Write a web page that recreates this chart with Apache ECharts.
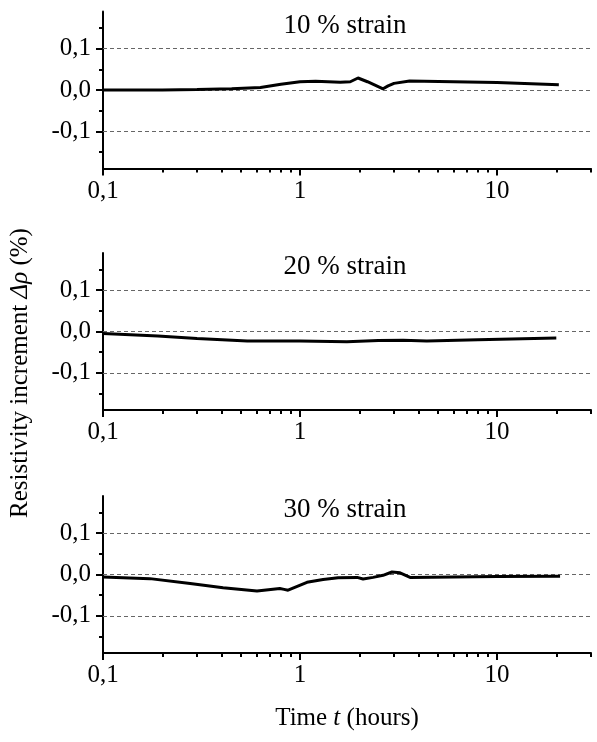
<!DOCTYPE html>
<html>
<head>
<meta charset="utf-8">
<script src="https://cdn.jsdelivr.net/npm/echarts@6/dist/echarts.min.js"></script>
<style>
  html, body { margin: 0; background: #fff; }
  #chart { width: 597px; height: 742px; }
</style>
</head>
<body>
<div id="chart"></div>
<script>
// data (time in hours, resistivity increment in %)
const panelTitles = ['10 % strain', '20 % strain', '30 % strain']

const time10 = [0.1, 0.2, 0.3, 0.45, 0.63, 0.8, 1.0, 1.2, 1.6, 1.8, 1.97, 2.2, 2.64, 2.8, 3.0, 3.6, 10, 20.6]
const rho10 = [0.0, 0.0, 0.001, 0.003, 0.006, 0.014, 0.02, 0.021, 0.019, 0.02, 0.029, 0.02, 0.003, 0.01, 0.016, 0.022, 0.018, 0.013]

const time20 = [0.1, 0.19, 0.3, 0.54, 1.0, 1.73, 2.5, 3.34, 4.4, 8, 20]
const rho20 = [-0.005, -0.011, -0.017, -0.023, -0.023, -0.025, -0.022, -0.021, -0.023, -0.02, -0.016]

const time30 = [0.1, 0.173, 0.277, 0.407, 0.605, 0.79, 0.83, 0.87, 1.085, 1.31, 1.56, 1.95, 2.09, 2.35, 2.64, 2.93, 3.22, 3.62, 10, 20.9]
const rho30 = [-0.006, -0.01, -0.022, -0.032, -0.04, -0.034, -0.036, -0.038, -0.019, -0.012, -0.008, -0.007, -0.011, -0.007, -0.002, 0.006, 0.004, -0.007, -0.005, -0.004]

const xMajorTicks = [0.1, 1, 10]
const xMinorTicks = [0.2, 0.3, 0.4, 0.5, 0.6, 0.7, 0.8, 0.9, 2, 3, 4, 5, 6, 7, 8, 9, 20, 30]
const yMajorTicks = [-0.1, 0, 0.1]
const yMinorTicks = [-0.15, -0.05, 0.05, 0.15]

const times = [time10, time20, time30]
const rhos = [rho10, rho20, rho30]

const FONT = 'Liberation Serif'
const gridTops = [11.5, 253, 496]
const GRID_H = 157

const chart = echarts.init(document.getElementById('chart'))

const grids = [], xAxes = [], yAxes = [], series = [], texts = []

gridTops.forEach((top, i) => {
  grids.push({ left: 103, top, width: 488, height: GRID_H })

  const xBase = {
    type: 'log', logBase: 10, min: 0.1, max: 30, gridIndex: i, position: 'bottom',
    splitLine: { show: false }
  }
  // main x axis with labels and long ticks
  xAxes.push({
    ...xBase,
    axisLine: { onZero: false, lineStyle: { color: '#000', width: 2 } },
    axisTick: { customValues: xMajorTicks, length: 7, lineStyle: { color: '#000', width: 2 } },
    axisLabel: {
      customValues: xMajorTicks, margin: 10,
      color: '#000', fontFamily: FONT, fontSize: 25,
      formatter: v => String(+v.toPrecision(3)).replace('.', ',')
    }
  })
  // minor ticks
  xAxes.push({
    ...xBase,
    axisLine: { show: false, onZero: false },
    axisTick: { customValues: xMinorTicks, length: 4, lineStyle: { color: '#000', width: 2 } },
    axisLabel: { show: false }
  })

  const yBase = { type: 'value', min: -0.19, max: 0.19, gridIndex: i, position: 'left', splitLine: { show: false } }
  yAxes.push({
    ...yBase,
    axisLine: { show: true, onZero: false, lineStyle: { color: '#000', width: 2 } },
    axisTick: { show: true, customValues: yMajorTicks, length: 7, lineStyle: { color: '#000', width: 2 } },
    axisLabel: {
      customValues: yMajorTicks, margin: 12,
      color: '#000', fontFamily: FONT, fontSize: 25,
      formatter: v => v.toFixed(1).replace('.', ',')
    }
  })
  yAxes.push({
    ...yBase,
    axisLine: { show: false, onZero: false },
    axisTick: { show: true, customValues: yMinorTicks, length: 4, lineStyle: { color: '#000', width: 2 } },
    axisLabel: { show: false }
  })

  series.push({
    type: 'line',
    xAxisIndex: i * 2,
    yAxisIndex: i * 2,
    data: times[i].map((t, k) => [t, rhos[i][k]]),
    showSymbol: false,
    smooth: false,
    z: 5,
    lineStyle: { color: '#000', width: 3 },
    markLine: {
      silent: true,
      symbol: ['none', 'none'],
      label: { show: false },
      lineStyle: { color: '#666', width: 1, type: [4, 3] },
      data: yMajorTicks.map(v => ({ yAxis: v }))
    }
  })

  texts.push({
    type: 'text', x: 345, y: top + 14,
    style: { text: panelTitles[i], font: '27px "Liberation Serif"', fill: '#000', align: 'center', verticalAlign: 'middle' }
  })
})

texts.push({
  type: 'text', x: 347, y: 718,
  style: {
    text: 'Time {i|t} (hours)',
    font: '25px "Liberation Serif"', fill: '#000', align: 'center', verticalAlign: 'middle',
    rich: { i: { fontStyle: 'italic', fontFamily: FONT, fontSize: 25 } }
  }
})
texts.push({
  type: 'text', x: 20, y: 373, rotation: Math.PI / 2,
  style: {
    text: 'Resistivity increment {i|Δρ} (%)',
    font: '25px "Liberation Serif"', fill: '#000', align: 'center', verticalAlign: 'middle',
    rich: { i: { fontStyle: 'italic', fontFamily: FONT, fontSize: 25 } }
  }
})

chart.setOption({
  animation: false,
  textStyle: { fontFamily: FONT },
  grid: grids,
  xAxis: xAxes,
  yAxis: yAxes,
  series,
  graphic: texts
})
</script>
</body>
</html>
